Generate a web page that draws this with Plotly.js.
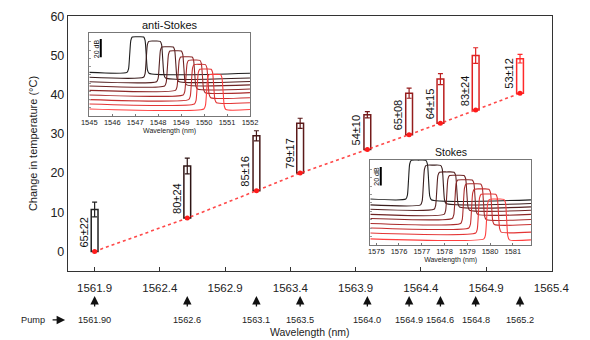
<!DOCTYPE html>
<html><head><meta charset="utf-8">
<script src="https://cdn.plot.ly/plotly-3.0.1.min.js"></script>
<style>html,body{margin:0;padding:0;background:#fff;}#chart{width:590px;height:340px;}</style>
</head><body><div id="chart"></div>
<script>
// ---- main chart data ----
const pumpNm = [1561.9, 1562.61, 1563.14, 1563.475, 1563.99, 1564.31, 1564.55, 1564.82, 1565.16];
const pumpLabels = ['1561.90', '1562.6', '1563.1', '1563.5', '1564.0', '1564.9', '1564.6', '1564.8', '1565.2'];
const baseTemp = [0, 8.5, 15.5, 20.0, 26.0, 29.8, 32.7, 36.1, 40.4];
const topTemp = [10.7, 21.8, 29.5, 32.7, 34.9, 40.4, 44.0, 50.0, 49.2];
const errTemp = [1.9, 2.0, 1.3, 1.3, 0.8, 1.3, 1.4, 2.0, 1.1];
const barLabels = ['65±22', '80±24', '85±16', '79±17', '54±10', '65±08', '64±15', '83±24', '53±12'];
const xTickVals = [1561.9, 1562.4, 1562.9, 1563.4, 1563.9, 1564.4, 1564.9, 1565.4];
const xTickText = ['1561.9', '1562.4', '1562.9', '1563.4', '1563.9', '1564.4', '1564.9', '1565.4'];
const yTickVals = [0, 10, 20, 30, 40, 50, 60];
const yTickText = ['0', '10', '20', '30', '40', '50', '60'];

// ---- inset: anti-Stokes spectra (nm, dB) ----
const asX = [
  [1545, 1546.64, 1546.71, 1546.76, 1546.81, 1546.87, 1547.12, 1547.37, 1547.43, 1547.48, 1547.53, 1547.60, 1552],
  [1545, 1547.36, 1547.43, 1547.48, 1547.53, 1547.59, 1547.84, 1548.09, 1548.15, 1548.20, 1548.25, 1548.32, 1552],
  [1545, 1547.93, 1548.00, 1548.05, 1548.10, 1548.16, 1548.41, 1548.66, 1548.72, 1548.77, 1548.82, 1548.89, 1552],
  [1545, 1548.28, 1548.35, 1548.40, 1548.45, 1548.51, 1548.76, 1549.01, 1549.07, 1549.12, 1549.17, 1549.24, 1552],
  [1545, 1548.75, 1548.82, 1548.87, 1548.92, 1548.98, 1549.23, 1549.48, 1549.54, 1549.59, 1549.64, 1549.71, 1552],
  [1545, 1549.09, 1549.16, 1549.21, 1549.26, 1549.32, 1549.57, 1549.82, 1549.88, 1549.93, 1549.98, 1550.05, 1552],
  [1545, 1549.33, 1549.40, 1549.45, 1549.50, 1549.56, 1549.81, 1550.06, 1550.12, 1550.17, 1550.22, 1550.29, 1552],
  [1545, 1549.58, 1549.65, 1549.70, 1549.75, 1549.81, 1550.06, 1550.31, 1550.37, 1550.42, 1550.47, 1550.54, 1552],
  [1545, 1549.99, 1550.06, 1550.11, 1550.16, 1550.22, 1550.47, 1550.72, 1550.78, 1550.83, 1550.88, 1550.95, 1552]
];
const asY = [
  [47.7, 47.7, 51.6, 67.2, 82.8, 86.4, 86.7, 86.4, 82.7, 66.8, 50.8, 46.8, 46.8],
  [42.3, 42.3, 46.3, 62.2, 78.0, 81.7, 82.0, 81.7, 78.0, 61.8, 45.6, 41.5, 41.5],
  [37.5, 37.5, 41.3, 56.7, 72.0, 75.5, 75.8, 75.5, 72.0, 56.8, 41.6, 37.8, 37.8],
  [32.8, 32.8, 36.7, 52.1, 67.5, 71.1, 71.4, 71.1, 67.7, 52.7, 37.7, 34.0, 34.0],
  [28.0, 28.0, 31.7, 46.4, 61.1, 64.5, 64.8, 64.5, 61.3, 47.2, 33.0, 29.5, 29.5],
  [23.0, 23.0, 26.8, 42.1, 57.4, 60.9, 61.2, 60.9, 57.6, 43.4, 29.1, 25.5, 25.5],
  [17.9, 17.9, 21.8, 37.2, 52.6, 56.2, 56.5, 56.2, 52.9, 38.3, 23.7, 20.0, 20.0],
  [13.1, 13.1, 16.9, 32.3, 47.6, 51.1, 51.4, 51.1, 47.7, 33.0, 18.2, 14.5, 14.5],
  [7.7, 7.7, 11.5, 26.6, 41.7, 45.2, 45.5, 45.2, 41.7, 26.3, 10.9, 7.0, 7.0]
];
const asTicks = [1545, 1546, 1547, 1548, 1549, 1550, 1551, 1552];

// ---- inset: Stokes spectra (nm, dB) ----
const stX = [
  [1574.74, 1576.30, 1576.37, 1576.42, 1576.47, 1576.54, 1576.86, 1577.18, 1577.25, 1577.30, 1577.35, 1577.42, 1581.8],
  [1574.74, 1576.95, 1577.02, 1577.07, 1577.12, 1577.19, 1577.51, 1577.83, 1577.90, 1577.95, 1578.00, 1578.07, 1581.8],
  [1574.74, 1577.54, 1577.61, 1577.66, 1577.71, 1577.78, 1578.10, 1578.42, 1578.49, 1578.54, 1578.59, 1578.66, 1581.8],
  [1574.74, 1577.98, 1578.05, 1578.10, 1578.15, 1578.22, 1578.54, 1578.86, 1578.93, 1578.98, 1579.03, 1579.10, 1581.8],
  [1574.74, 1578.34, 1578.41, 1578.46, 1578.51, 1578.58, 1578.90, 1579.22, 1579.29, 1579.34, 1579.39, 1579.46, 1581.8],
  [1574.74, 1578.71, 1578.78, 1578.83, 1578.88, 1578.95, 1579.27, 1579.59, 1579.66, 1579.71, 1579.76, 1579.83, 1581.8],
  [1574.74, 1579.07, 1579.14, 1579.19, 1579.24, 1579.31, 1579.63, 1579.95, 1580.02, 1580.07, 1580.12, 1580.19, 1581.8],
  [1574.74, 1579.37, 1579.44, 1579.49, 1579.54, 1579.61, 1579.93, 1580.25, 1580.32, 1580.37, 1580.42, 1580.49, 1581.8],
  [1574.74, 1579.73, 1579.80, 1579.85, 1579.90, 1579.97, 1580.29, 1580.61, 1580.68, 1580.73, 1580.78, 1580.85, 1581.8]
];
const stY = [
  [49.2, 49.2, 53.4, 70.1, 86.8, 90.7, 91.0, 90.7, 86.7, 69.7, 52.7, 48.4, 48.4],
  [43.0, 43.0, 47.3, 64.3, 81.3, 85.3, 85.6, 85.3, 81.5, 65.0, 48.5, 44.4, 44.4],
  [38.3, 38.3, 42.3, 58.3, 74.3, 78.0, 78.3, 78.0, 74.5, 59.6, 44.6, 40.8, 40.8],
  [32.8, 32.8, 37.0, 53.8, 70.5, 74.4, 74.7, 74.4, 71.0, 56.0, 41.0, 37.2, 37.2],
  [28.4, 28.4, 32.6, 49.2, 65.8, 69.6, 69.9, 69.6, 66.2, 51.4, 36.5, 32.8, 32.8],
  [23.0, 23.0, 27.3, 44.3, 61.3, 65.3, 65.6, 65.3, 61.8, 46.5, 31.1, 27.3, 27.3],
  [18.2, 18.2, 22.4, 39.2, 55.9, 59.8, 60.1, 59.8, 56.3, 41.0, 25.7, 21.9, 21.9],
  [12.8, 12.8, 17.0, 33.7, 50.4, 54.3, 54.6, 54.3, 50.5, 34.2, 17.9, 13.8, 13.8],
  [6.6, 6.6, 10.9, 27.9, 44.9, 48.9, 49.2, 48.9, 45.1, 27.4, 9.9, 5.5, 5.5]
];
const stTicks = [1575, 1576, 1577, 1578, 1579, 1580, 1581];

// scale bars (20 dB)
const asScaleX = [1545.5, 1545.5];
const asScaleY = [64.2, 84.2];
const stScaleX = [1575.2, 1575.2];
const stScaleY = [63.7, 83.7];

// ---- styles ----
const barColors = ['#222222', '#2e1414', '#461818', '#5c1a1a', '#741b1b', '#951d1d', '#bb1f1f', '#e02222', '#ff2a2a'];
const specColors = ['#1e1e1e', '#3a1e1e', '#552222', '#6e2424', '#8c2828', '#aa2c2c', '#c83030', '#e43636', '#ff4040'];
const FONT = 'Liberation Sans, Arial, Helvetica, sans-serif';

const traces = [];
for (let i = 0; i < pumpNm.length; i++) {
  traces.push({
    type: 'bar', x: [pumpNm[i]], y: [topTemp[i] - baseTemp[i]], base: [baseTemp[i]],
    width: 0.052, xaxis: 'x', yaxis: 'y',
    marker: {color: 'rgba(255,255,255,0)', line: {color: barColors[i], width: 1.5}},
    error_y: {type: 'data', array: [errTemp[i]], visible: true, color: barColors[i], thickness: 1.2, width: 2.5},
    hoverinfo: 'skip'
  });
}
traces.push({
  type: 'scatter', mode: 'lines+markers', x: pumpNm, y: baseTemp, xaxis: 'x', yaxis: 'y',
  line: {color: 'rgba(255,40,40,0.85)', width: 1.6, dash: 'dot'},
  marker: {color: '#ff1a1a', size: 5}, cliponaxis: false
});
for (let i = 0; i < asX.length; i++) {
  traces.push({type: 'scatter', mode: 'lines', x: asX[i], y: asY[i], xaxis: 'x2', yaxis: 'y2',
    line: {color: specColors[i], width: 1.1, shape: 'spline', smoothing: 0.6}});
}
for (let i = 0; i < stX.length; i++) {
  traces.push({type: 'scatter', mode: 'lines', x: stX[i], y: stY[i], xaxis: 'x3', yaxis: 'y3',
    line: {color: specColors[i], width: 1.1, shape: 'spline', smoothing: 0.6}});
}
traces.push({type: 'scatter', mode: 'lines', x: asScaleX, y: asScaleY, xaxis: 'x2', yaxis: 'y2', line: {color: '#000', width: 2}});
traces.push({type: 'scatter', mode: 'lines', x: stScaleX, y: stScaleY, xaxis: 'x3', yaxis: 'y3', line: {color: '#000', width: 2}});

const annotations = [];
for (let i = 0; i < pumpNm.length; i++) {
  annotations.push({
    x: pumpNm[i], y: baseTemp[i], xref: 'x', yref: 'y', text: barLabels[i], textangle: -90,
    xanchor: 'center', yanchor: 'bottom', xshift: -11, yshift: 2, showarrow: false,
    font: {family: FONT, size: 11, color: '#111'}
  });
  annotations.push({
    x: pumpNm[i], y: -0.098, xref: 'x', yref: 'paper', text: pumpLabels[i],
    showarrow: true, ax: 0, ay: 24, axref: 'pixel', ayref: 'pixel',
    arrowhead: 2, arrowsize: 1.3, arrowwidth: 1.3, arrowcolor: '#111', startstandoff: 7,
    font: {family: FONT, size: 9.2, color: '#222'}
  });
}
annotations.push({
  x: -0.006, y: -0.192, xref: 'paper', yref: 'paper', text: 'Pump',
  showarrow: true, ax: -32, ay: 0, axref: 'pixel', ayref: 'pixel',
  arrowhead: 2, arrowsize: 1.3, arrowwidth: 1.3, arrowcolor: '#111', startstandoff: 6,
  font: {family: FONT, size: 9.2, color: '#222'}
});
annotations.push({x: 0.5, y: -0.2706, xref: 'paper', yref: 'paper', text: 'Wavelength (nm)', showarrow: false,
  xanchor: 'center', yanchor: 'bottom', font: {family: FONT, size: 10.5, color: '#222'}});
annotations.push({x: 0.211, y: 0.965, xref: 'paper', yref: 'paper', text: 'anti-Stokes', showarrow: false,
  xanchor: 'center', yanchor: 'middle', font: {family: FONT, size: 11, color: '#111'}});
annotations.push({x: 0.791, y: 0.467, xref: 'paper', yref: 'paper', text: 'Stokes', showarrow: false,
  xanchor: 'center', yanchor: 'middle', font: {family: FONT, size: 10.5, color: '#111'}});
annotations.push({x: 1545.29, y: 74.2, xref: 'x2', yref: 'y2', text: '20 dB', textangle: -90, showarrow: false,
  xanchor: 'center', yanchor: 'middle', font: {family: FONT, size: 7, color: '#111'}});
annotations.push({x: 1575.01, y: 73.7, xref: 'x3', yref: 'y3', text: '20 dB', textangle: -90, showarrow: false,
  xanchor: 'center', yanchor: 'middle', font: {family: FONT, size: 7, color: '#111'}});

const insetX = (dom, rng, ticks) => ({
  domain: dom, range: rng, tickvals: ticks, ticktext: ticks.map(String),
  showline: true, mirror: true, linecolor: '#777', linewidth: 1, ticks: 'inside', ticklen: 2, tickcolor: '#777',
  showgrid: false, zeroline: false, tickfont: {family: FONT, size: 7.5, color: '#222'}, ticklabelstandoff: -1,
  title: {text: 'Wavelength (nm)', font: {family: FONT, size: 7, color: '#222'}, standoff: 1}
});
const insetY = (dom) => ({
  domain: dom, range: [0, 91], showline: true, mirror: true, linecolor: '#777', linewidth: 1,
  ticks: 'inside', ticklen: 2, tickcolor: '#999', dtick: 9, showticklabels: false, showgrid: false, zeroline: false
});

const layout = {
  width: 590, height: 340, margin: {l: 68, r: 38, t: 16, b: 69},
  paper_bgcolor: '#fff', plot_bgcolor: 'rgba(0,0,0,0)', showlegend: false, barmode: 'overlay',
  font: {family: FONT, color: '#222'},
  xaxis: {
    domain: [0, 1], range: [1561.696, 1565.405], tickvals: xTickVals, ticktext: xTickText,
    ticks: 'inside', ticklen: 4, tickcolor: '#333', showline: true, mirror: true, linecolor: '#333', linewidth: 1.2,
    showgrid: false, zeroline: false, tickfont: {family: FONT, size: 11.5, color: '#222'}, ticklabelstandoff: 6
  },
  yaxis: {
    domain: [0, 1], range: [-5, 60.1], tickvals: yTickVals, ticktext: yTickText, ticks: '',
    showline: true, mirror: true, linecolor: '#333', linewidth: 1.2, showgrid: false, zeroline: false,
    tickfont: {family: FONT, size: 12.5, color: '#222'},
    title: {text: 'Change in temperature (°C)', font: {family: FONT, size: 11, color: '#222'}, standoff: 10}
  },
  xaxis2: Object.assign(insetX([0.044, 0.376], [1545, 1552], asTicks), {anchor: 'y2'}),
  yaxis2: Object.assign(insetY([0.608, 0.934]), {anchor: 'x2'}),
  xaxis3: Object.assign(insetX([0.6246, 0.9566], [1574.74, 1581.8], stTicks), {anchor: 'y3'}),
  yaxis3: Object.assign(insetY([0.102, 0.435]), {anchor: 'x3'}),
  annotations: annotations
};

Plotly.newPlot('chart', traces, layout, {staticPlot: true, displayModeBar: false});
</script>
</body></html>
